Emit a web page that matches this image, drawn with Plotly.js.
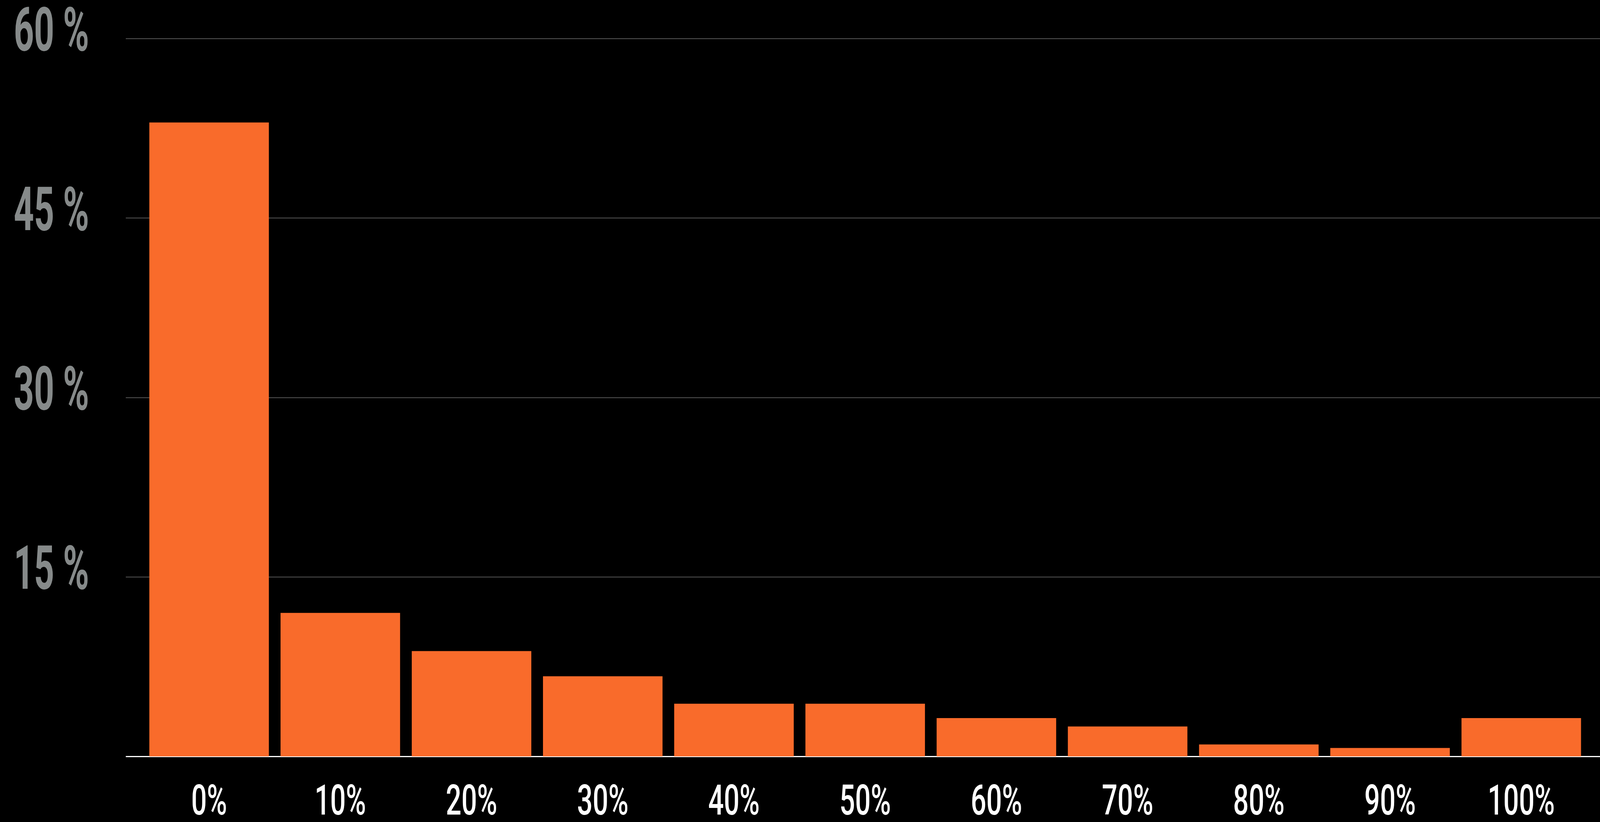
<!DOCTYPE html>
<html>
<head>
<meta charset="utf-8">
<script src="https://cdn.plot.ly/plotly-3.0.1.min.js"></script>
<style>
  html, body { margin: 0; padding: 0; background: #000; overflow: hidden; }
  #chart { position: absolute; left: 0; top: 0; }
</style>
</head>
<body>
<div id="chart"></div>
<script>
const categories = ["0%", "10%", "20%", "30%", "40%", "50%", "60%", "70%", "80%", "90%", "100%"];
const shares = [53.0, 12.0, 8.8, 6.7, 4.4, 4.4, 3.2, 2.5, 1.0, 0.7, 3.2];
const yTickVals = [0, 15, 30, 45, 60];
const yTickText = ["", "15 %", "30 %", "45 %", "60 %"];

const REF_W = 4149;
const W = Math.min(window.innerWidth || REF_W, REF_W);
const H = 2104;
const sx = W / REF_W;

const trace = {
  type: "bar",
  x: categories,
  y: shares,
  marker: { color: "#F96B2B", line: { width: 0 } },
  hoverinfo: "x+y"
};

const layout = {
  width: W,
  height: H,
  paper_bgcolor: "#000000",
  plot_bgcolor: "#000000",
  margin: { l: Math.round(326 * sx), r: 0, t: 90, b: 168, pad: 0 },
  bargap: 0.089,
  showlegend: false,
  xaxis: {
    type: "category",
    range: [-0.635, 10.6],
    showgrid: false,
    zeroline: false,
    showline: false,
    ticks: "",
    ticklabelstandoff: 40,
    ticklabeloverflow: "allow",
    tickfont: { family: "Roboto, sans-serif", size: 108, weight: 500, color: "#FFFFFF" }
  },
  yaxis: {
    range: [0, 60.3],
    tickmode: "array",
    tickvals: yTickVals,
    ticktext: yTickText,
    showgrid: true,
    gridcolor: "#555555",
    gridwidth: 2,
    zeroline: true,
    zerolinecolor: "#FFFFFF",
    zerolinewidth: 3,
    showline: false,
    ticks: "",
    ticklabelstandoff: Math.round(94 * sx),
    ticklabelshift: -24,
    ticklabeloverflow: "allow",
    tickfont: { family: "Roboto, sans-serif", size: 155, weight: 700, color: "#868A8A" }
  }
};

Plotly.newPlot("chart", [trace], layout, { displayModeBar: false, staticPlot: true }).then(function (gd) {
  // condensed look: compress label glyphs horizontally (text stays real text)
  gd.querySelectorAll(".xaxislayer-above text").forEach(function (t) {
    const w = t.getComputedTextLength();
    if (w > 0) {
      t.setAttribute("textLength", (w * 0.66 * sx).toFixed(1));
      t.setAttribute("lengthAdjust", "spacingAndGlyphs");
    }
  });
  gd.querySelectorAll(".yaxislayer-above text").forEach(function (t) {
    const w = t.getComputedTextLength();
    if (w > 0) {
      t.setAttribute("textLength", (w * 0.59 * sx).toFixed(1));
      t.setAttribute("lengthAdjust", "spacingAndGlyphs");
    }
  });
});
</script>
</body>
</html>
